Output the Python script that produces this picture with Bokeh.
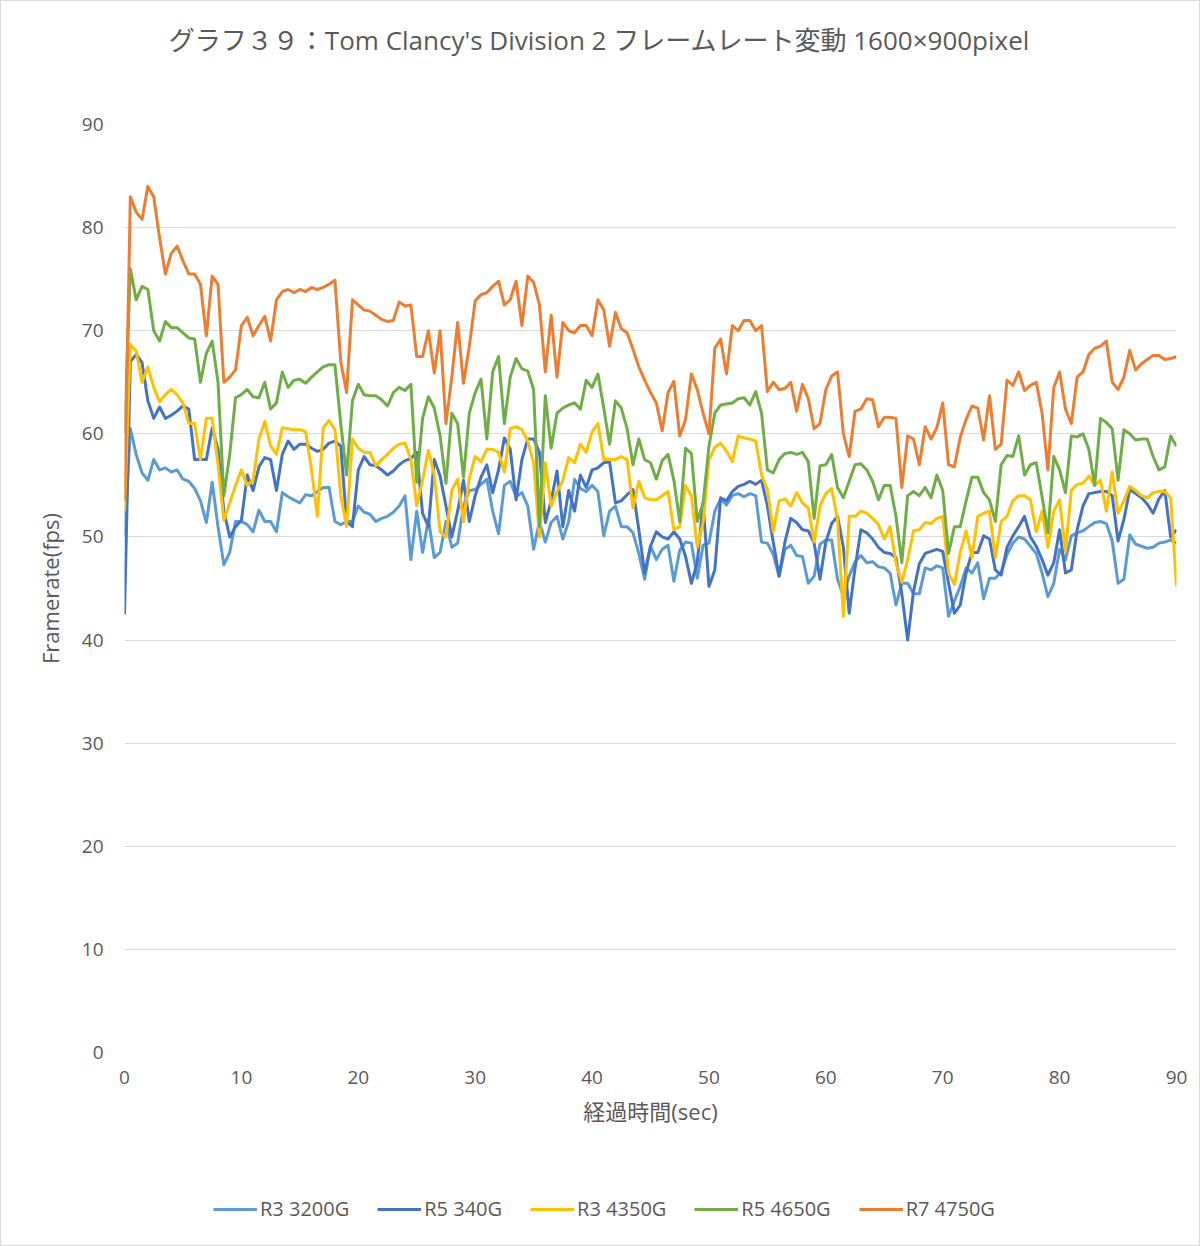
import numpy as np
from bokeh.plotting import figure
from bokeh.layouts import column
from bokeh.models import Range1d, Legend, LegendItem, FixedTicker, Label
from bokeh.embed import file_html
from bokeh.resources import INLINE

# time axis (sec), one sample every 0.5 s
time_sec = np.arange(0, 90.5, 0.5)

r3_3200g = [50, 60.5, 58, 56.2, 55.5, 57.5, 56.5, 56.7, 56.3, 56.5,
            55.6, 55.4, 54.7, 53.5, 51.4, 55.3, 51, 47.3, 48.5, 51.5,
            51.5, 51.2, 50.5, 52.6, 51.5, 51.5, 50.5, 54.3, 53.9, 53.6,
            53.3, 54.1, 54, 54.4, 54.8, 54.8, 51.5, 51.2, 51.5, 51.5,
            53, 52.4, 52.2, 51.5, 51.8, 52, 52.4, 53, 54, 47.8,
            52.5, 48.5, 51.7, 48, 48.5, 51.5, 49, 49.4, 53, 54.5,
            54.6, 55.1, 55.6, 52.5, 50.3, 55, 55.4, 53.9, 54.3, 53,
            48.8, 51.5, 49.5, 51.4, 52, 49.8, 51.5, 55.6, 54.7, 54.4,
            55, 54.4, 50.1, 52.5, 53, 51, 51, 50.4, 48.4, 45.9,
            49.1, 47.8, 48.8, 49.2, 45.7, 48.7, 49.5, 49.4, 46, 49.2,
            49.4, 52.5, 53.7, 53.1, 54, 54.2, 53.9, 54.2, 54, 49.5,
            49.4, 48.3, 46.2, 48.8, 49.2, 48.2, 48.1, 45.5, 46.2, 49.3,
            49.7, 49.7, 45.9, 44.3, 46.2, 47.6, 48.2, 47.5, 47.6, 47.1,
            47, 46.5, 43.4, 45.5, 45.5, 44.5, 44.5, 47, 46.8, 47.2,
            47, 42.3, 43.8, 45.2, 47, 46.5, 47.5, 44, 46, 46,
            46.6, 48.3, 49.4, 50, 49.8, 49.1, 48.4, 46.5, 44.2, 45.5,
            48.8, 47.8, 50.1, 50.4, 50.6, 51, 51.4, 51.5, 51.3, 49.6,
            45.5, 45.9, 50.2, 49.3, 49.1, 48.9, 49, 49.4, 49.5, 49.7, 49.4]

r5_340g = [42.5, 67, 67.7, 66.9, 63.2, 61.5, 62.6, 61.5, 61.8, 62.2,
           62.7, 62.4, 57.5, 57.5, 57.5, 60.6, 58.5, 52.5, 50, 51,
           51.6, 56, 54.5, 56.8, 57.7, 57.5, 54.5, 58, 59.3, 58.5,
           59, 59, 58.6, 58.3, 58.5, 59.1, 59.3, 58.8, 51.5, 51,
           56.5, 57.8, 57, 56.9, 56.5, 56, 56.4, 57, 57.4, 57.6,
           58.2, 52.3, 51, 57.5, 55.9, 53, 50, 52.5, 55.5, 51.5,
           54, 55.8, 57, 54.3, 56.5, 59.6, 58.5, 53.6, 57.5, 59.5,
           59.5, 58.2, 51.4, 53.5, 56.4, 51, 54.5, 52.5, 56, 54.8,
           56.5, 56.7, 57.2, 57.3, 53.3, 53.5, 54.1, 54.6, 50.7, 46.5,
           49.1, 50.5, 50, 49.8, 50.5, 49.8, 48.1, 45.5, 47.5, 53.3,
           45.2, 46.8, 53.8, 53.5, 54.4, 54.9, 55.1, 55.4, 55.1, 55.5,
           53, 49.5, 46.2, 49.5, 51.8, 51.4, 50.7, 50.6, 49.4, 45.9,
           49.5, 51.3, 52, 49, 42.6, 47, 50.7, 50.4, 49.8, 49,
           48.5, 48.4, 48, 44.5, 40, 44.7, 47.4, 48.4, 48.6, 48.8,
           48.6, 45.5, 42.6, 43.4, 46.5, 48.5, 48.5, 50.1, 49.8, 46.8,
           46.3, 49, 50.1, 51, 52, 50, 49.1, 47.8, 46.3, 47.5,
           50.7, 46.5, 46.8, 50.7, 53, 54.2, 54.3, 54.4, 54.4, 54,
           49.6, 51.7, 54.6, 54.2, 53.8, 53.2, 52.3, 53.7, 54.5, 50, 50.7]

r3_4350g = [52.5, 68.7, 68, 65, 66.5, 64.5, 63.1, 63.8, 64.3, 63.8,
            63, 61, 61, 57.5, 61.5, 61.5, 57, 51.6, 53.3, 55,
            56.5, 55, 55.5, 59.5, 61.2, 58.8, 58, 60.6, 60.5, 60.4,
            60.4, 60.2, 56.5, 52, 60.6, 61.3, 60.4, 54, 51, 59.5,
            58.6, 58.2, 58.2, 56.9, 57.5, 58, 58.6, 59, 59.1, 57.5,
            53, 55.5, 58.4, 56, 50.5, 50, 54.5, 55.6, 51.5, 55.7,
            57.8, 57.3, 58.5, 58.5, 58.2, 56.3, 60.5, 60.7, 60.4, 59.3,
            57.2, 50, 57.2, 53, 54.4, 55.5, 57.7, 57.2, 59, 58.2,
            60.2, 61, 57.5, 57.5, 57.5, 57.8, 57.5, 52.8, 55.4, 53.8,
            53.6, 53.6, 54, 54.4, 50.7, 51, 55, 54, 49, 51.4,
            57.5, 58.7, 59.1, 58.3, 57.3, 59.8, 59.6, 59.5, 59.3, 56,
            54.6, 50.5, 53.5, 53.7, 53, 54.3, 53.3, 52.8, 49.5, 53,
            54.2, 54.7, 51.7, 42.3, 52, 52, 52.5, 52.3, 51.8, 51.2,
            49.8, 51, 47.5, 45.6, 47.8, 50.6, 50.7, 51.4, 51.3, 51.8,
            52, 46.5, 45.4, 48.5, 50.6, 48, 52, 52.3, 52.5, 48,
            51.5, 52, 53.5, 54, 54, 53.6, 50.5, 52.5, 49, 52.5,
            53.6, 48.6, 54.5, 55.1, 55.2, 55.9, 55, 55.5, 52.5, 56.3,
            52.3, 53.5, 54.9, 54.5, 54, 53.8, 54.3, 54.4, 54.4, 53.8, 45.2]

r5_4650g = [60, 76, 73, 74.3, 74, 70, 69, 70.9, 70.3, 70.3,
            69.8, 69.3, 69.2, 65, 67.8, 69, 65, 54, 58, 63.5,
            63.8, 64.3, 63.6, 63.5, 65, 62.4, 63, 66, 64.5, 65.2,
            65.3, 64.9, 65.5, 66, 66.5, 66.7, 66.7, 61, 56, 63.2,
            64.8, 63.8, 63.7, 63.7, 63.3, 62.7, 64, 64.5, 64.2, 64.8,
            55.3, 61.5, 63.6, 62.5, 59.8, 55.2, 62, 61, 55.8, 62,
            64, 65.3, 59.5, 66, 67.5, 61, 65.5, 67.3, 66.3, 66.1,
            64.3, 51, 63.7, 58.6, 62, 62.5, 62.8, 63, 62.4, 65.2,
            64.5, 65.8, 62.5, 59, 63.2, 62.5, 60.5, 57, 59.5, 57.5,
            57.2, 55.6, 57.4, 58, 55.5, 51.5, 58.6, 58.1, 51.5, 53.3,
            58.8, 62, 62.8, 62.9, 63, 63.4, 63.5, 62.8, 64.1, 62,
            56.5, 56.2, 57.5, 58.1, 58.2, 58, 58.2, 57.3, 51.8, 56.9,
            57, 58, 54.8, 53.8, 55.4, 57, 57.1, 56.5, 55.4, 53.6,
            55, 55, 52, 47.5, 54, 54.4, 54, 54.8, 53.8, 56,
            54.5, 48.4, 51, 51, 53.5, 55.8, 55.8, 54.3, 53.6, 51.5,
            57, 57.9, 57.8, 59.8, 56, 57, 57.2, 53.9, 50.4, 57.8,
            56.5, 54.3, 59.8, 59.7, 60, 58.5, 55, 61.5, 61.1, 60.5,
            55.5, 60.4, 60, 59.4, 59.5, 59.5, 57.8, 56.5, 56.8, 59.8, 58.8]

r7_4750g = [53.5, 83, 81.5, 80.8, 84, 83, 79, 75.5, 77.5, 78.2,
            76.8, 75.5, 75.5, 74.5, 69.5, 75.3, 74.5, 65, 65.5, 66.2,
            70.5, 71.3, 69.5, 70.5, 71.4, 69, 73, 73.8, 74, 73.7,
            74, 73.8, 74.2, 74, 74.2, 74.5, 74.9, 67, 64, 73,
            72.5, 72, 71.9, 71.5, 71.1, 70.9, 71, 72.8, 72.4, 72.5,
            67.5, 67.5, 70, 65.9, 70, 61, 65.5, 70.8, 64.9, 68.5,
            72.9, 73.5, 73.7, 74.3, 74.8, 72.5, 73, 74.8, 70.5, 75.3,
            74.7, 72.5, 66, 71.5, 65.5, 70.8, 70, 69.8, 70.5, 70.5,
            69.5, 73, 72, 68.5, 71.8, 70.2, 69.8, 68.2, 66.5, 65.2,
            64, 63, 60.3, 64, 65.1, 59.8, 61.4, 65.8, 64.3, 62,
            60, 68.3, 69.2, 65.8, 70.5, 70, 71, 71, 70, 70.5,
            64.1, 65, 64.3, 64.4, 65, 62.2, 64.8, 63.4, 60.5, 61,
            64.3, 65.6, 66, 60, 57.8, 62.2, 62.4, 63.4, 63.3, 60.7,
            61.6, 61.6, 61.5, 54.8, 59.8, 59.5, 57, 60.7, 59.5, 60.6,
            63, 57, 56.8, 59.7, 61.4, 62.7, 62.5, 59.4, 63.7, 58.5,
            59, 65.2, 64.7, 66, 64.2, 64.7, 65, 62, 56.5, 64.5,
            66, 62.4, 61, 65.5, 66, 67.7, 68.3, 68.5, 69, 65,
            64.3, 65.5, 68.1, 66.2, 66.8, 67.2, 67.6, 67.6, 67.2, 67.3, 67.5]

series_names = ["R3 3200G", "R5 340G", "R3 4350G", "R5 4650G", "R7 4750G"]
series_values = [r3_3200g, r5_340g, r3_4350g, r5_4650g, r7_4750g]
series_colors = ["#5B9BD5", "#4472C4", "#FFC000", "#70AD47", "#ED7D31"]

y_ticks = [0, 10, 20, 30, 40, 50, 60, 70, 80, 90]
x_ticks = [0, 10, 20, 30, 40, 50, 60, 70, 80, 90]

title_text = "グラフ３９：Tom Clancy's Division 2 フレームレート変動 1600×900pixel"
x_label = "経過時間(sec)"
y_label = "Framerate(fps)"

FONT = "Open Sans, Noto Sans CJK JP"
TXT = "#595959"
W = 1198


def bare(height):
    f = figure(width=W, height=height, output_backend="svg", toolbar_location=None,
               title=None, x_axis_location=None, y_axis_location=None,
               x_range=Range1d(0, 1), y_range=Range1d(0, 1),
               min_border_left=0, min_border_right=0, min_border_top=0, min_border_bottom=0,
               background_fill_color="white", border_fill_color="white")
    f.outline_line_color = None
    f.xgrid.visible = False
    f.ygrid.visible = False
    return f


# --- title strip (its frame is aligned with the main chart's frame, left edge = page x 124) ---
p_title = bare(80)
p_title.add_layout(Label(x=475, y=42, x_units="screen", y_units="screen", text=title_text,
                         text_align="center", text_baseline="middle", text_font=FONT,
                         text_font_size="26px", text_color=TXT))

# --- main chart ---
p = figure(width=W, height=1090, output_backend="svg", toolbar_location=None, title=None,
           x_range=Range1d(0, 90), y_range=Range1d(0, 90),
           min_border_left=123, min_border_right=23, min_border_top=43, min_border_bottom=119,
           background_fill_color="white", border_fill_color="white")
p.outline_line_color = None

p.xgrid.grid_line_color = None
p.ygrid.grid_line_color = "#D9D9D9"
p.ygrid.grid_line_width = 1
p.ygrid.ticker = FixedTicker(ticks=y_ticks)

p.yaxis.ticker = FixedTicker(ticks=y_ticks)
p.xaxis.ticker = FixedTicker(ticks=x_ticks)
for ax in (p.xaxis[0], p.yaxis[0]):
    ax.axis_line_color = None
    ax.major_tick_line_color = None
    ax.minor_tick_line_color = None
    ax.major_label_text_font = FONT
    ax.major_label_text_font_size = "19px"
    ax.major_label_text_color = TXT
    ax.axis_label_text_font = FONT
    ax.axis_label_text_font_size = "22px"
    ax.axis_label_text_font_style = "normal"
    ax.axis_label_text_color = TXT
p.yaxis.major_label_standoff = 15
p.yaxis.axis_label = y_label
p.yaxis.axis_label_standoff = 14
p.xaxis.major_label_standoff = 12
p.xaxis.axis_label = x_label
p.xaxis.axis_label_standoff = 9

for name, vals, col in zip(series_names, series_values, series_colors):
    p.line(time_sec, vals, line_color=col, line_width=3, line_join="round")

# --- legend strip: sample lines lie outside its 0..1 ranges, only the legend shows ---
p_leg = bare(74)
leg_renderers = [p_leg.line([5, 6], [5, 5], line_color=col, line_width=3) for col in series_colors]
legend = Legend(items=[LegendItem(label=n, renderers=[r]) for n, r in zip(series_names, leg_renderers)],
                orientation="horizontal", location=(89, 23),
                background_fill_alpha=0, border_line_color=None,
                padding=0, margin=0, spacing=28, label_standoff=3,
                glyph_width=44, glyph_height=20, label_height=20,
                label_text_font=FONT, label_text_font_size="20px", label_text_color=TXT)
p_leg.add_layout(legend, "center")

layout = column(p_title, p, p_leg, spacing=0, styles={"border": "1px solid #D9D9D9"})

open("out.html", "w").write(file_html(layout, INLINE))
